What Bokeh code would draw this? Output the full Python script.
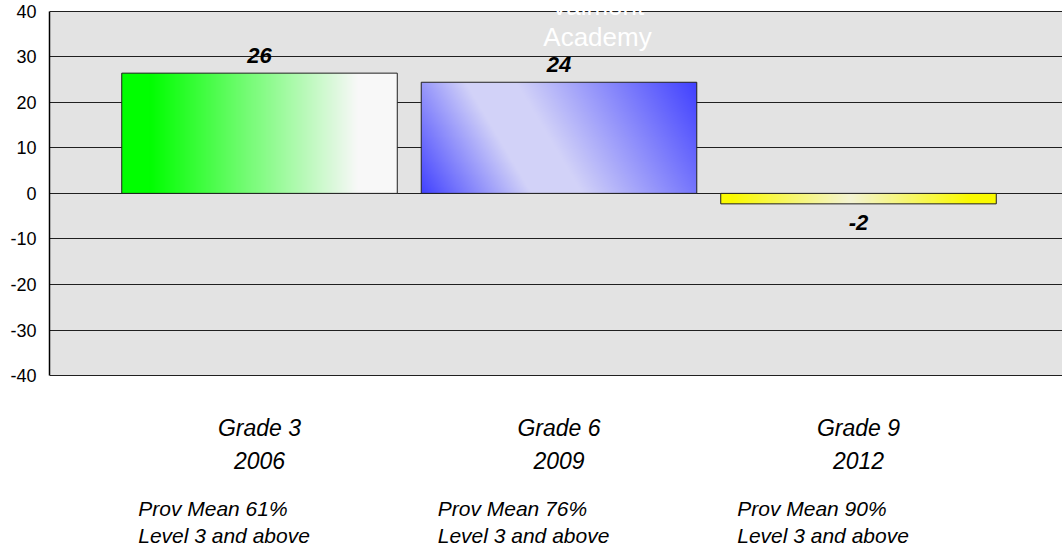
import numpy as np
from bokeh.plotting import figure
from bokeh.models import Range1d, FixedTicker, BoxAnnotation, ColumnDataSource, Label
from bokeh.embed import file_html
from bokeh.resources import INLINE
from bokeh.core.properties import value

# ---- data ----
categories = ["Grade 3", "Grade 6", "Grade 9"]
years = ["2006", "2009", "2012"]
prov_labels = ["Prov Mean  61%", "Prov Mean 76%", "Prov Mean 90%"]
level_label = "Level 3 and above"
values = [26.4, 24.4, -2.3]
y_ticks = [-40, -30, -20, -10, 0, 10, 20, 30, 40]
title_lines = ["Valmont", "Academy"]

FONT = "Liberation Sans"
xs = list(range(len(categories)))
bar_w = 0.92
PX_PER_UNIT_Y = 4.554
BAR_PX_W = 276

p = figure(width=1062, height=552, output_backend="svg", toolbar_location=None,
           x_range=Range1d(-0.7012, 2.6811), y_range=Range1d(-78.85, 42.35),
           x_axis_location=None, min_border_left=49, min_border_right=0,
           min_border_top=0, min_border_bottom=0)
p.outline_line_color = None
p.background_fill_color = "white"
p.border_fill_color = "white"
p.xgrid.visible = False

# plot area background
p.add_layout(BoxAnnotation(bottom=y_ticks[0], top=y_ticks[-1], fill_color="#e3e3e3",
                           fill_alpha=1, line_color=None, level="image"))

p.ygrid.ticker = FixedTicker(ticks=y_ticks)
p.ygrid.grid_line_color = "#202020"
p.ygrid.grid_line_width = 1
p.yaxis.ticker = FixedTicker(ticks=y_ticks)
p.yaxis.bounds = (y_ticks[0], y_ticks[-1])
p.yaxis.major_label_overrides = {t: str(t) for t in y_ticks}
p.yaxis.axis_line_color = "black"
p.yaxis.axis_line_width = 1.5
p.yaxis.major_tick_out = 0
p.yaxis.major_tick_in = 0
p.yaxis.minor_tick_line_color = None
p.yaxis.major_label_text_font = FONT
p.yaxis.major_label_text_font_size = "18px"
p.yaxis.major_label_text_color = "black"
p.yaxis.major_label_standoff = 13


def make_gradient(kind, val, rows=120, cols=276):
    u = (np.arange(cols) + 0.5) / cols
    v = (np.arange(rows) + 0.5) / rows
    U, V = np.meshgrid(u, v)  # V: 0 bottom -> 1 top
    if kind == "green":
        t = np.clip((U - 0.1) / 0.75, 0, 1)
        c0 = np.array([0, 255, 0]); c1 = np.array([248, 248, 248])
        rgb = c0[None, None, :] * (1 - t[..., None]) + c1[None, None, :] * t[..., None]
    elif kind == "yellow":
        t = np.clip(1 - np.abs(U - 0.47) / 0.43, 0, 1)
        c0 = np.array([250, 250, 0]); c1 = np.array([244, 244, 212])
        rgb = c0[None, None, :] * (1 - t[..., None]) + c1[None, None, :] * t[..., None]
    else:  # diagonal blue
        W = BAR_PX_W
        H = abs(val) * PX_PER_UNIT_Y
        px = U * W
        py = (1 - V) * H
        p0 = np.array([0.22 * W, 0.0]); p1 = np.array([0.46 * W, H])
        d = p1 - p0
        n = np.array([d[1], -d[0]]) / np.hypot(*d)
        s = (px - p0[0]) * n[0] + (py - p0[1]) * n[1]
        dark = np.array([64, 64, 255]); light = np.array([210, 210, 248])
        t = np.where(s < -15, np.clip((s + 110) / 95, 0, 1),
                     np.where(s <= 30, 1.0, np.clip(1 - (s - 30) / 155, 0, 1)))
        rgb = dark[None, None, :] * (1 - t[..., None]) + light[None, None, :] * t[..., None]
    img = np.empty((rows, cols), dtype=np.uint32)
    view = img.view(dtype=np.uint8).reshape((rows, cols, 4))
    view[..., 0] = rgb[..., 0].astype(np.uint8)
    view[..., 1] = rgb[..., 1].astype(np.uint8)
    view[..., 2] = rgb[..., 2].astype(np.uint8)
    view[..., 3] = 255
    return img


kinds = ["green", "blue", "yellow"]
img_src = ColumnDataSource(dict(
    image=[make_gradient(k, v) for k, v in zip(kinds, values)],
    x=[x - bar_w / 2 for x in xs],
    y=[min(0, v) for v in values],
    dw=[bar_w] * len(values),
    dh=[abs(v) for v in values],
))
p.image_rgba(image="image", x="x", y="y", dw="dw", dh="dh", source=img_src)

bar_src = ColumnDataSource(dict(x=xs, top=values,
                                color=["#00ff00", "#8080f8", "#ffff00"]))
p.vbar(x="x", top="top", bottom=0, width=bar_w, source=bar_src,
       fill_color="color", fill_alpha=0, line_color="#202020", line_width=1)

# value labels
lab_src = ColumnDataSource(dict(
    x=xs, y=values, text=[str(int(round(v))) for v in values],
    off=[-18 if v >= 0 else 19 for v in values]))
p.text(x="x", y="y", text="text", y_offset="off", source=lab_src,
       text_align="center", text_baseline="middle",
       text_font=value(FONT), text_font_size="22px", text_font_style="bold italic",
       text_color="black")

# category labels below the plot area (one text row per line)
rows = [
    (xs, -51.62, categories, "center", "23px"),
    (xs, -58.65, years, "center", "23px"),
    ([x - 0.405 for x in xs], -69.19, prov_labels, "left", "21px"),
    ([x - 0.405 for x in xs], -75.12, [level_label] * len(xs), "left", "21px"),
]
for rx, ry, rtext, ralign, rsize in rows:
    src = ColumnDataSource(dict(x=rx, y=[ry] * len(rx), text=rtext))
    p.text(x="x", y="y", text="text", source=src,
           text_align=ralign, text_baseline="middle",
           text_font=value(FONT), text_font_size=rsize, text_font_style="italic",
           text_color="black")

# title (white, partially cut at top)
for ty, line in zip([41.04, 34.23], title_lines):
    p.add_layout(Label(x=1.1285, y=ty, text=line, text_align="center",
                       text_baseline="middle", text_color="white",
                       text_font=FONT, text_font_size="26px"))

open("out.html", "w").write(file_html(p, INLINE))
